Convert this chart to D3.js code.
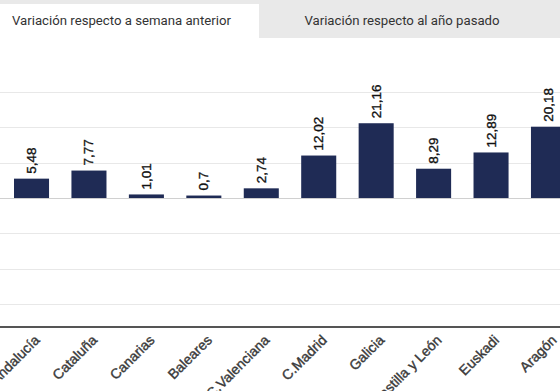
<!DOCTYPE html>
<html><head><meta charset="utf-8">
<script src="https://cdn.jsdelivr.net/npm/d3@7"></script>
<style>body{margin:0;background:#fff;overflow:hidden}svg{display:block}</style>
</head><body>
<svg id="c" width="560" height="391"></svg>
<script>
const categories = ["Andalucía","Cataluña","Canarias","Baleares","C.Valenciana","C.Madrid","Galicia","Castilla y León","Euskadi","Aragón"];
const values = [5.48,7.77,1.01,0.7,2.74,12.02,21.16,8.29,12.89,20.18];
const labels = ["5,48","7,77","1,01","0,7","2,74","12,02","21,16","8,29","12,89","20,18"];
const tabs = ["Variación respecto a semana anterior","Variación respecto al año pasado"];
const gridTicks = [-30,-20,-10,0,10,20,30];

const svg = d3.select("#c");
// tabs
svg.append("rect").attr("x",0).attr("y",0).attr("width",560).attr("height",38).attr("fill","#e9e9e9");
svg.append("rect").attr("x",0).attr("y",4).attr("width",259).attr("height",35).attr("fill","#fff");
svg.append("text").attr("x",12).attr("y",25).text(tabs[0])
  .attr("font-family","Roboto").attr("font-size",13.2).attr("fill","#333");
svg.append("text").attr("x",402).attr("y",25).attr("text-anchor","middle").text(tabs[1])
  .attr("font-family","Roboto").attr("font-size",13.2).attr("fill","#333");

const x = d3.scaleBand().domain(categories).range([2.8,577.2]).paddingInner(0.39).paddingOuter(0.195);
const y = d3.scaleLinear().domain([-36.5,30]).range([327,92]);

// grid
svg.append("g").selectAll("line").data(gridTicks).join("line")
  .attr("x1",0).attr("x2",560).attr("y1",d=>Math.round(y(d))+0.5).attr("y2",d=>Math.round(y(d))+0.5)
  .attr("stroke",d=>d===0?"#d0d0d0":"#e8e8e8").attr("stroke-width",1);

// bars
svg.append("g").selectAll("rect").data(values).join("rect")
  .attr("x",(d,i)=>x(categories[i])).attr("width",x.bandwidth())
  .attr("y",d=>y(d)).attr("height",d=>y(0)-y(d)).attr("fill","#1f2b55");

// value labels
svg.append("g").selectAll("text").data(values).join("text")
  .attr("transform",(d,i)=>`translate(${x(categories[i])+x.bandwidth()/2+4.5},${y(d)-5}) rotate(-90)`)
  .attr("font-family","Liberation Sans, Arial").attr("font-size",13.5).attr("fill","#111")
  .attr("stroke","#111").attr("stroke-width",0.35)
  .text((d,i)=>labels[i]);

// x axis
const xa = svg.append("g").attr("transform","translate(0,327)")
  .call(d3.axisBottom(x).tickSize(0).tickPadding(0));
xa.select(".domain").attr("stroke","#555").attr("stroke-width",2).attr("d","M0,0H560");
xa.selectAll("text")
  .attr("font-family","Liberation Sans, Arial").attr("font-size",14).attr("fill","#3a3a3a")
  .attr("stroke","#3a3a3a").attr("stroke-width",0.4)
  .attr("text-anchor","end").attr("dy",0)
  .attr("transform","translate(9,14) rotate(-45)");
</script>
</body></html>
